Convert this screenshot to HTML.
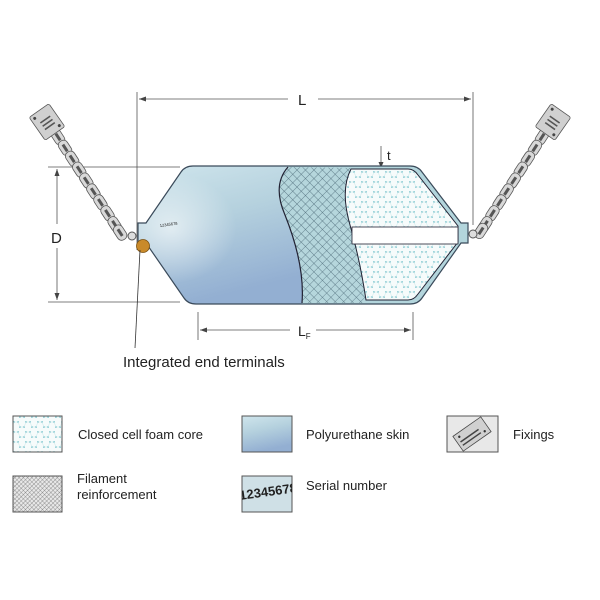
<!DOCTYPE html>
<html><head><meta charset="utf-8"><style>
html,body{margin:0;padding:0;background:#fff}
svg{display:block}
text{font-family:"Liberation Sans",Arial,sans-serif;fill:#222}
</style></head><body>
<svg width="600" height="600" viewBox="0 0 600 600" xmlns="http://www.w3.org/2000/svg">
<defs>
<linearGradient id="skin" x1="0" y1="0" x2="0.3" y2="1">
<stop offset="0" stop-color="#cfe5ec"/><stop offset="0.45" stop-color="#b5d1de"/><stop offset="1" stop-color="#93afd2"/>
</linearGradient>
<radialGradient id="hl" cx="0.2" cy="0.45" r="0.4">
<stop offset="0" stop-color="#ffffff" stop-opacity="0.6"/><stop offset="1" stop-color="#ffffff" stop-opacity="0"/>
</radialGradient>
<pattern id="foam" width="12" height="10" patternUnits="userSpaceOnUse">
<rect width="12" height="10" fill="#f6fbfb"/>
<g fill="#5fb8c2"><circle cx="2" cy="2" r="0.9"/><circle cx="6" cy="2" r="0.9"/><circle cx="8" cy="7" r="0.9"/><circle cx="12" cy="7" r="0.9"/><circle cx="0" cy="7" r="0.9"/></g>
<g stroke="#c9e6ea" stroke-width="0.5" fill="none"><path d="M2 2 L0 7 M6 2 L8 7 M2 2 L6 2 M8 7 L12 7"/></g>
</pattern>
<pattern id="hatch" width="6" height="6" patternUnits="userSpaceOnUse" patternTransform="rotate(45)">
<rect width="6" height="6" fill="#b5d6dc"/>
<path d="M0 0 V6 M0 0 H6" stroke="#2f4a5a" stroke-width="0.7"/>
</pattern>
<pattern id="hatchS" width="3" height="3" patternUnits="userSpaceOnUse" patternTransform="rotate(45)">
<rect width="3" height="3" fill="#e8e8e8"/>
<path d="M0 0 V3 M0 0 H3" stroke="#555" stroke-width="0.6"/>
</pattern>
<clipPath id="sc"><rect x="242" y="476" width="50" height="36"/></clipPath>
<g id="link"><rect x="-8" y="-5" width="16" height="10" rx="4.5" fill="#d8d8d8" stroke="#555" stroke-width="0.8"/><rect x="-4" y="-1.5" width="8" height="3" fill="#555"/></g>
<g id="plate"><rect x="-12" y="-14" width="24" height="28" rx="2" fill="#d0d0d0" stroke="#555" stroke-width="0.8"/><circle cx="-8" cy="-10" r="1.5" fill="#444"/><circle cx="8" cy="10" r="1.5" fill="#444"/><path d="M-6 -3 h12 M-6 1 h12 M-6 5 h12" stroke="#555" stroke-width="1.6"/></g>
</defs>

<g stroke="#555" stroke-width="0.8" fill="none">
<line x1="137" y1="92" x2="137" y2="250"/><line x1="473" y1="92" x2="473" y2="225"/>
<line x1="139" y1="99" x2="288" y2="99"/><line x1="318" y1="99" x2="471" y2="99"/>
<line x1="48" y1="167" x2="180" y2="167"/><line x1="48" y1="302" x2="180" y2="302"/>
<line x1="57" y1="169" x2="57" y2="224"/><line x1="57" y1="248" x2="57" y2="300"/>
<line x1="198" y1="312" x2="198" y2="340"/><line x1="413" y1="312" x2="413" y2="340"/>
<line x1="200" y1="330" x2="290" y2="330"/><line x1="316" y1="330" x2="411" y2="330"/>
<line x1="381" y1="146" x2="381" y2="176"/>
</g>
<g fill="#444">
<path d="M139 99 l7 -2.5 v5z"/><path d="M471 99 l-7 -2.5 v5z"/>
<path d="M57 169 l-2.5 7 h5z"/><path d="M57 300 l-2.5 -7 h5z"/>
<path d="M200 330 l7 -2.5 v5z"/><path d="M411 330 l-7 -2.5 v5z"/>
<path d="M381 168 l-2.5 -6 h5z"/>
</g>
<text x="298" y="105" font-size="15">L</text>
<text x="51" y="243" font-size="15">D</text>
<text x="298" y="336" font-size="14">L<tspan font-size="8" dy="3">F</tspan></text>
<text x="387" y="160" font-size="13">t</text>

<g>
<g transform="translate(58,137) rotate(57)">
<use href="#link" x="0"/><use href="#link" x="13"/><use href="#link" x="26"/><use href="#link" x="39"/><use href="#link" x="52"/><use href="#link" x="65"/><use href="#link" x="78"/><use href="#link" x="91"/><use href="#link" x="104"/><use href="#link" x="114"/>
</g>
<use href="#plate" transform="translate(47,122) rotate(-35)"/>
<g transform="translate(542,137) rotate(123)">
<use href="#link" x="0"/><use href="#link" x="13"/><use href="#link" x="26"/><use href="#link" x="39"/><use href="#link" x="52"/><use href="#link" x="65"/><use href="#link" x="78"/><use href="#link" x="91"/><use href="#link" x="104"/><use href="#link" x="112"/>
</g>
<use href="#plate" transform="translate(553,122) rotate(35)"/>
<circle cx="132" cy="236" r="4" fill="#ddd" stroke="#555"/><circle cx="473" cy="234" r="4" fill="#ddd" stroke="#555"/>
</g>

<path d="M146 223 L181 172 Q185 166 193 166 L410 166 Q418 166 422 172 L461 223 L468 223 L468 243 L461 243 L422 298 Q418 304 410 304 L196 304 Q188 304 184 298 L146 243 L138 243 L138 223 Z" fill="#b3d5dc"/>
<path d="M138 223 L146 223 L181 172 Q185 166 193 166 L288 166 Q272 185 285 215 Q305 265 302 304 L196 304 Q188 304 184 298 L146 243 L138 243 Z" fill="url(#skin)"/>
<path d="M138 223 L146 223 L181 172 Q185 166 193 166 L288 166 Q272 185 285 215 Q305 265 302 304 L196 304 Q188 304 184 298 L146 243 L138 243 Z" fill="url(#hl)"/>
<path d="M288 167 Q272 185 285 215 Q305 265 302 303 L366 303 Q360 260 350 225 Q340 190 351 168 Z" fill="url(#hatch)" opacity="0.8"/>
<path d="M288 167 Q272 185 285 215 Q305 265 302 303" fill="none" stroke="#223" stroke-width="1.2"/>
<path d="M351 169 L408 169 Q414 169 418 175 L458 226 L458 242 L418 294 Q414 300 408 300 L366 300 Q360 260 350 225 Q340 190 351 169 Z" fill="url(#foam)" stroke="#223" stroke-width="1"/>
<rect x="352" y="227" width="106" height="17" fill="#fff" stroke="#223" stroke-width="0.8"/>
<path d="M146 223 L181 172 Q185 166 193 166 L410 166 Q418 166 422 172 L461 223 L468 223 L468 243 L461 243 L422 298 Q418 304 410 304 L196 304 Q188 304 184 298 L146 243 L138 243 L138 223 Z" fill="none" stroke="#3a4a5a" stroke-width="1.2"/>
<text x="160" y="227" font-size="4" fill="#222" transform="rotate(-8 160 227)">12345678</text>
<circle cx="143" cy="246" r="6.5" fill="#c98a2a" stroke="#7a5010" stroke-width="0.8"/>
<line x1="140" y1="250" x2="135" y2="348" stroke="#333" stroke-width="0.8"/>
<text x="123" y="367" font-size="15" fill="#333">Integrated end terminals</text>

<g stroke="#555" stroke-width="1">
<rect x="13" y="416" width="49" height="36" fill="url(#foam)"/>
<rect x="242" y="416" width="50" height="36" fill="url(#skin)"/>
<rect x="447" y="416" width="51" height="36" fill="#e8e8e8"/>
<rect x="13" y="476" width="49" height="36" fill="url(#hatchS)"/>
<rect x="242" y="476" width="50" height="36" fill="#cfe0e6"/>
</g>
<g transform="translate(472,434) rotate(-35)"><rect x="-17" y="-9" width="34" height="18" fill="#d0d0d0" stroke="#444" stroke-width="0.8"/><path d="M-14 0 h22 M-14 4 h22" stroke="#444" stroke-width="1.5"/><circle cx="-12" cy="-5" r="1.2" fill="#333"/><circle cx="12" cy="5" r="1.2" fill="#333"/></g>
<g clip-path="url(#sc)"><text x="240" y="500" font-size="13" font-weight="bold" fill="#111" transform="rotate(-8 240 500)">12345678</text></g>
<g font-size="13">
<text x="78" y="439">Closed cell foam core</text>
<text x="306" y="439">Polyurethane skin</text>
<text x="513" y="439">Fixings</text>
<text x="77" y="483">Filament</text>
<text x="77" y="499">reinforcement</text>
<text x="306" y="490">Serial number</text>
</g>
</svg>
</body></html>
